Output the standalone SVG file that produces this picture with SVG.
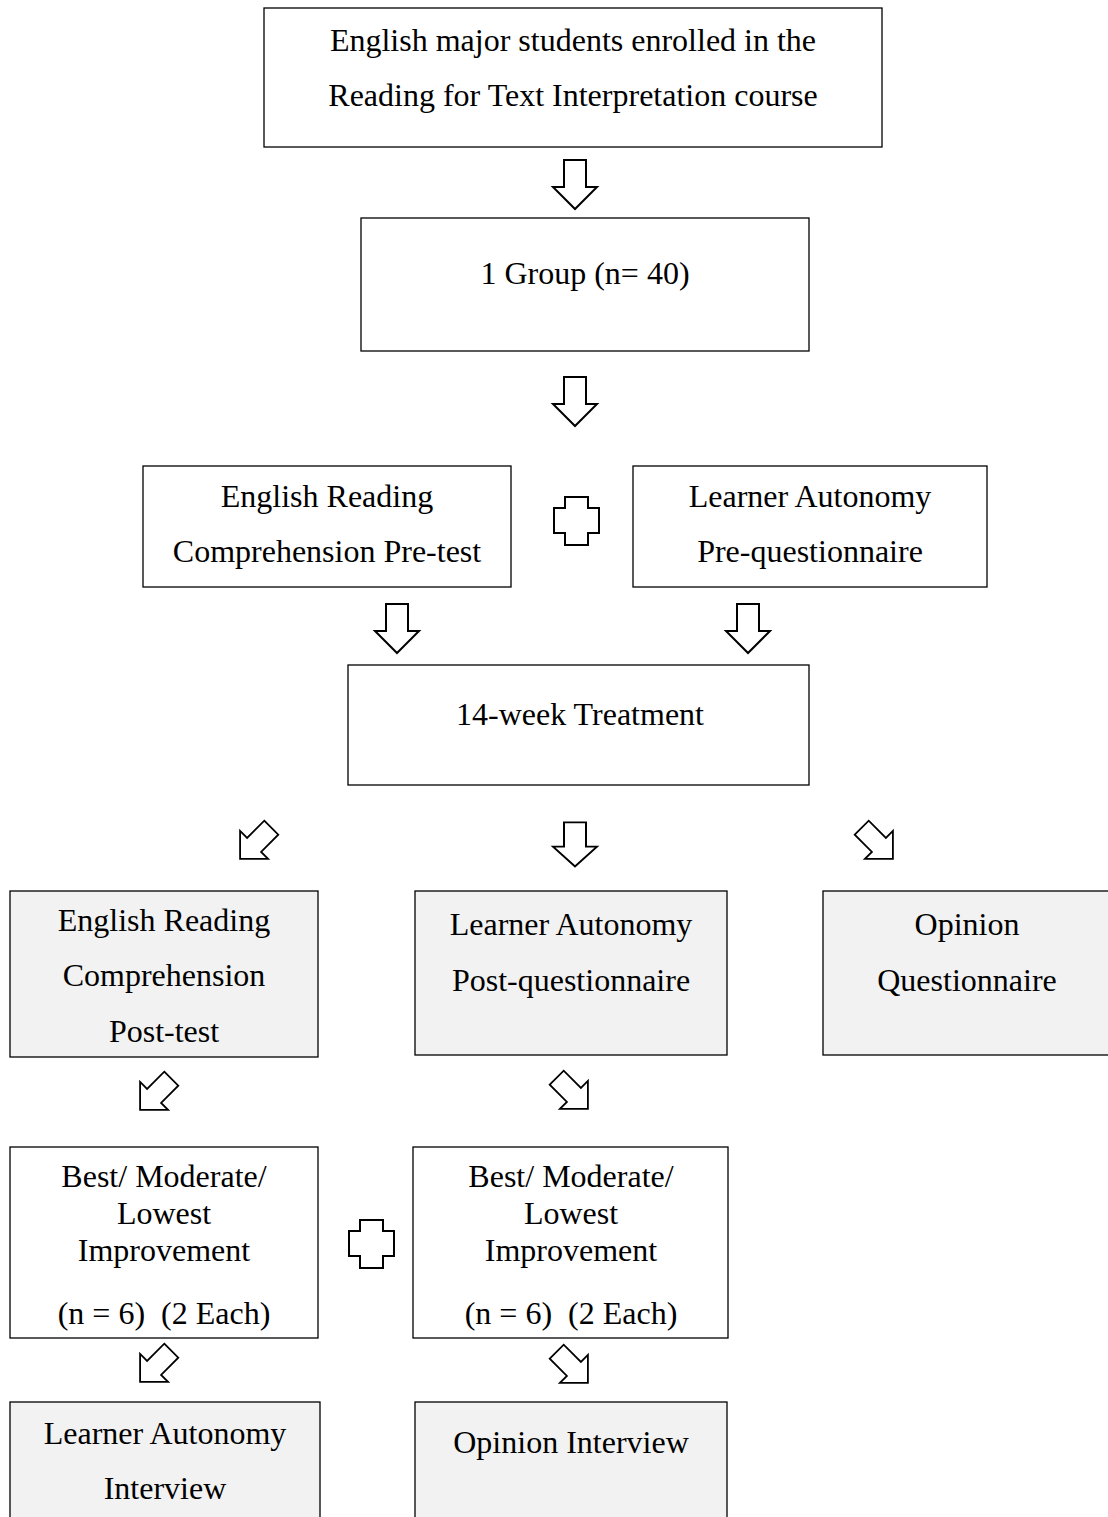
<svg xmlns="http://www.w3.org/2000/svg" xmlns:xlink="http://www.w3.org/1999/xlink" width="1108" height="1517" viewBox="0 0 1108 1517">
<style>
.box{fill:#fff;stroke:#000;stroke-width:1.3}
.gbox{fill:#f2f2f2;stroke:#000;stroke-width:1.3}
.t{font-family:"Liberation Serif","Times New Roman",serif;font-size:32px;fill:#000;text-anchor:middle}
.arr{fill:#fff;stroke:#000;stroke-width:2;stroke-linejoin:miter}
</style>
<defs>
<polygon id="down" points="-11,-24 11,-24 11,3 22,3 0,25 -22,3 -11,3"/>
<polygon id="plus" points="-11,-24 12,-24 12,-13 23,-13 23,12 12,12 12,24 -11,24 -11,12 -22,12 -22,-13 -11,-13"/>
</defs>
<rect width="1108" height="1517" fill="#fff"/>
<g id="connectors">
<use href="#down" class="arr" transform="translate(575,184)"/>
<use href="#down" class="arr" transform="translate(575,401)"/>
<use href="#plus" class="arr" transform="translate(576,521)"/>
<use href="#down" class="arr" transform="translate(397,628)"/>
<use href="#down" class="arr" transform="translate(748,628)"/>
<use href="#down" class="arr" transform="translate(256,843) rotate(45) scale(0.9)"/>
<use href="#down" class="arr" transform="translate(575,844) scale(1,0.9)"/>
<use href="#down" class="arr" transform="translate(877,843) rotate(-45) scale(0.9)"/>
<use href="#down" class="arr" transform="translate(156,1094) rotate(45) scale(0.9)"/>
<use href="#down" class="arr" transform="translate(572,1093) rotate(-45) scale(0.9)"/>
<use href="#plus" class="arr" transform="translate(371,1244)"/>
<use href="#down" class="arr" transform="translate(156,1366) rotate(45) scale(0.9)"/>
<use href="#down" class="arr" transform="translate(572,1367) rotate(-45) scale(0.9)"/>
</g>
<g id="n1"><rect class="box" x="264" y="8" width="618" height="139"/>
<text class="t" x="573" y="51">English major students enrolled in the</text>
<text class="t" x="573" y="106">Reading for Text Interpretation course</text></g>
<g id="n2"><rect class="box" x="361" y="218" width="448" height="133"/>
<text class="t" x="585" y="284">1 Group (n= 40)</text></g>
<g id="n3a"><rect class="box" x="143" y="466" width="368" height="121"/>
<text class="t" x="327" y="507">English Reading</text>
<text class="t" x="327" y="562">Comprehension Pre-test</text></g>
<g id="n3b"><rect class="box" x="633" y="466" width="354" height="121"/>
<text class="t" x="810" y="507">Learner Autonomy</text>
<text class="t" x="810" y="562">Pre-questionnaire</text></g>
<g id="n4"><rect class="box" x="348" y="665" width="461" height="120"/>
<text class="t" x="580" y="725">14-week Treatment</text></g>
<g id="n5a"><rect class="gbox" x="10" y="891" width="308" height="166"/>
<text class="t" x="164" y="931">English Reading</text>
<text class="t" x="164" y="986">Comprehension</text>
<text class="t" x="164" y="1042">Post-test</text></g>
<g id="n5b"><rect class="gbox" x="415" y="891" width="312" height="164"/>
<text class="t" x="571" y="935">Learner Autonomy</text>
<text class="t" x="571" y="991">Post-questionnaire</text></g>
<g id="n5c"><rect class="gbox" x="823" y="891" width="300" height="164"/>
<text class="t" x="967" y="935">Opinion</text>
<text class="t" x="967" y="991">Questionnaire</text></g>
<g id="n7a"><rect class="box" x="10" y="1147" width="308" height="191"/>
<text class="t" x="164" y="1187">Best/ Moderate/</text>
<text class="t" x="164" y="1224">Lowest</text>
<text class="t" x="164" y="1261">Improvement</text>
<text class="t" x="164" y="1324" xml:space="preserve">(n = 6)  (2 Each)</text></g>
<g id="n7b"><rect class="box" x="413" y="1147" width="315" height="191"/>
<text class="t" x="571" y="1187">Best/ Moderate/</text>
<text class="t" x="571" y="1224">Lowest</text>
<text class="t" x="571" y="1261">Improvement</text>
<text class="t" x="571" y="1324" xml:space="preserve">(n = 6)  (2 Each)</text></g>
<g id="n9a"><rect class="gbox" x="10" y="1402" width="310" height="140"/>
<text class="t" x="165" y="1444">Learner Autonomy</text>
<text class="t" x="165" y="1499">Interview</text></g>
<g id="n9b"><rect class="gbox" x="415" y="1402" width="312" height="140"/>
<text class="t" x="571" y="1453">Opinion Interview</text></g>
</svg>
